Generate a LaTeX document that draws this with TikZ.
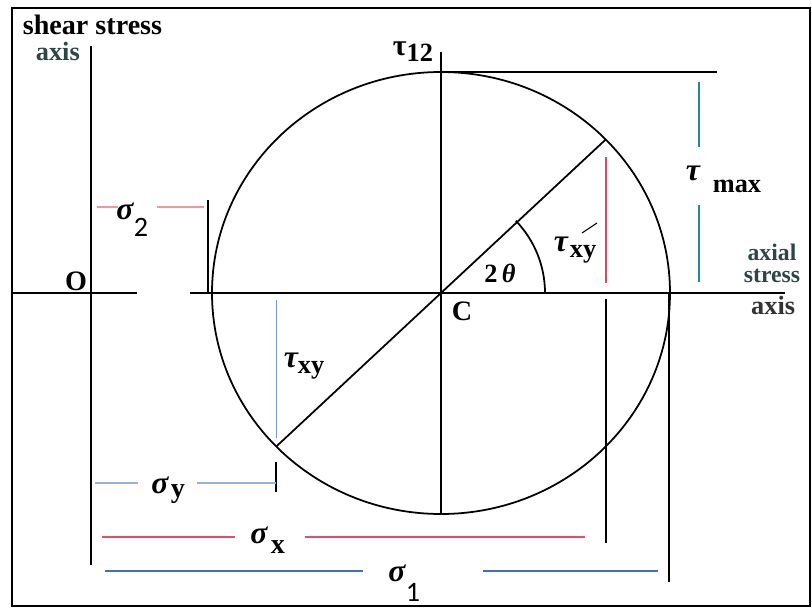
\documentclass[tikz,border=0pt]{standalone}
\usepackage{fontspec}
\setmainfont{Liberation Serif}
\newfontfamily\subfont{Carlito}
\usetikzlibrary{calc}
\definecolor{sigtwo}{RGB}{240,150,162}
\definecolor{sigx}{RGB}{228,78,108}
\definecolor{tauright}{RGB}{224,70,98}
\definecolor{sigy}{RGB}{150,178,220}
\definecolor{tauleft}{RGB}{120,150,214}
\definecolor{sigone}{RGB}{62,112,192}
\definecolor{taumax}{RGB}{30,138,150}
\definecolor{axtext}{RGB}{44,70,72}
\tikzset{
  lbl/.style={font=\fontsize{15}{18}\selectfont\bfseries, inner sep=0pt},
  greek/.style={font=\fontsize{18}{18}\selectfont\bfseries\itshape, inner sep=0pt},
  axlbl/.style={font=\fontsize{14}{14}\selectfont\bfseries, inner sep=0pt, text=axtext},
  subl/.style={font=\fontsize{16}{18}\selectfont\subfont, inner sep=0pt}
}
\begin{document}
\begin{tikzpicture}[x=0.02cm, y=-0.02cm, line width=1pt]
    \useasboundingbox (0,0) rectangle (812,608);
    \draw[line width=1.6pt] (12,8) rectangle (810,606);
    % axes
    \draw (91,46) -- (91,565);
    \draw (13,293) -- (137,293);
    \draw (190,293) -- (785,293);
    \node[lbl, font=\fontsize{16}{18}\selectfont\bfseries, anchor=base west] (shear) at (22,35) {shear stress};
    \node[axlbl, font=\fontsize{15}{15}\selectfont\bfseries, anchor=base west] (shearax) at (35,61) {axis};
    \node[lbl, font=\fontsize{16}{18}\selectfont\bfseries] (O) at (76,281) {O};
    \node[axlbl, font=\fontsize{13.5}{12.5}\selectfont\bfseries, align=center, anchor=north] (axial) at (772,243) {axial\\stress};
    \node[axlbl, text=black!80, font=\fontsize{15}{15}\selectfont\bfseries, anchor=base east] (axright) at (796,314) {axis};
    % circle and diameter
    \coordinate (C) at (441,293);
    \draw (C) ellipse [x radius=229, y radius=221];
    \coordinate (P) at ($(C)+(-44:229 and 221)$);
    \coordinate (Q) at ($(C)+(136:229 and 221)$);
    \draw (P) -- (Q);
    \draw (441,52) -- (441,514);
    \draw (C) ++(104,0) arc[start angle=0, end angle=-44, radius=104];
    \node[lbl, font=\fontsize{16}{18}\selectfont\bfseries, anchor=north west] (Clbl) at (451,301) {C};
    \node[lbl] (twotheta) at (500,273) {2\,\textit{θ}};
    \node[lbl, font=\fontsize{17}{18}\selectfont\bfseries] (tau12) at (413,52) {τ\raisebox{-0.45ex}{\fontsize{15}{18}\selectfont 12}};
    % tau max
    \draw (441,72) -- (717,72);
    \draw[taumax] (699,82) -- (699,147);
    \draw[taumax] (699,205) -- (699,282);
    \node[greek] (taum) at (693,173) {τ};
    \node[lbl] (taumsub) at (737,186) {max};
    % tau xy, right
    \draw[tauright] (P |- 0,157) -- (P |- 0,283);
    \draw (P |- 0,299) -- (P |- 0,543);
    \node[greek] (taur) at (561,244) {τ};
    \node[lbl] (taursub) at (583,254) {xy};
    \draw[line width=0.6pt] (582,233) -- (597,223);
    % tau xy, left
    \draw[tauleft, line width=0.8pt] (Q |- 0,300) -- (Q |- 0,438);
    \draw (Q |- 0,462) -- (Q |- 0,492);
    \node[greek] (taul) at (291,360) {τ};
    \node[lbl] (taulsub) at (311,370) {xy};
    % sigma 2
    \draw (208,200) -- (208,293);
    \draw[sigtwo] (97,207) -- (118,207);
    \draw[sigtwo] (157,207) -- (204,207);
    \node[greek] (s2) at (125,211) {σ};
    \node[subl] (s2sub) at (141,227) {2};
    % sigma y
    \draw[sigy] (95,483) -- (138,483);
    \draw[sigy] (197,483) -- (Q |- 0,483);
    \node[greek] (sy) at (160,485) {σ};
    \node[lbl, font=\fontsize{16}{18}\selectfont\bfseries] (sysub) at (178,494) {y};
    % sigma x
    \draw[sigx] (102,537) -- (235,537);
    \draw[sigx] (305,537) -- (585,537);
    \node[greek] (sx) at (259,535) {σ};
    \node[lbl, font=\fontsize{16}{18}\selectfont\bfseries] (sxsub) at (278,547) {x};
    % sigma 1
    \draw (669,293) -- (669,582);
    \draw[sigone] (105,571) -- (363,571);
    \draw[sigone] (483,571) -- (658,571);
    \node[greek] (s1) at (397,573) {σ};
    \node[subl] (s1sub) at (413,592) {1};
\end{tikzpicture}
\end{document}
